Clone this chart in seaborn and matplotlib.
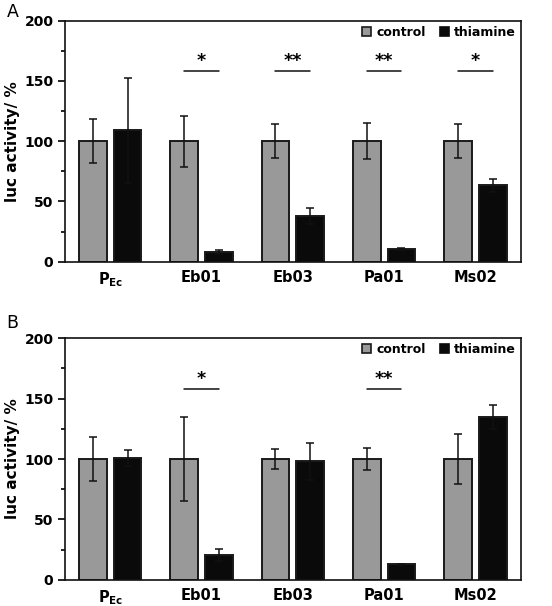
import numpy as np
import pandas as pd
import matplotlib
matplotlib.use("Agg")
import matplotlib.pyplot as plt
import seaborn as sns
from matplotlib.patches import Patch
from matplotlib.ticker import MultipleLocator

sns.set_theme(style="ticks")
plt.rcParams['font.family'] = ['DejaVu Sans']
plt.rcParams['mathtext.fontset'] = 'dejavusans'
plt.rcParams['text.color'] = '#000000'
plt.rcParams['axes.labelcolor'] = '#000000'
plt.rcParams['xtick.color'] = '#000000'
plt.rcParams['ytick.color'] = '#000000'

categories = ["PEc", "Eb01", "Eb03", "Pa01", "Ms02"]
tick_labels = [r"$\mathbf{P_{Ec}}$", "Eb01", "Eb03", "Pa01", "Ms02"]
conditions = ["control", "thiamine"]

# Panel A
a_control = [100, 100, 100, 100, 100]
a_control_err = [18, 21, 14, 15, 14]
a_thiamine = [109, 8.3, 38, 10.5, 63.5]
a_thiamine_err = [43.5, 1.5, 7, 0.6, 5.3]
a_sig = ["", "*", "**", "**", "*"]

# Panel B
b_control = [100, 100, 100, 100, 100]
b_control_err = [18, 35, 8.5, 8.8, 20.5]
b_thiamine = [101, 21, 98, 13, 135]
b_thiamine_err = [6.5, 5, 15, 0.6, 10]
b_sig = ["", "*", "", "**", ""]

sig_y = 158
colors = {"control": "#999999", "thiamine": "#0a0a0a"}


def panel(ax, ctrl, ctrl_err, thia, thia_err, sig, letter, letter_y):
    df = pd.DataFrame({
        "group": categories * 2,
        "condition": ["control"] * 5 + ["thiamine"] * 5,
        "value": ctrl + thia,
    })
    sns.barplot(data=df, x="group", y="value", hue="condition",
                order=categories, hue_order=conditions, palette=colors,
                width=0.76, gap=0.2, errorbar=None, ax=ax,
                edgecolor="#1a1a1a", linewidth=1.4, legend=False, saturation=1)
    errs = ctrl_err + thia_err
    vals = ctrl + thia
    patches = [p for p in ax.patches][:10]
    for p, v, e in zip(patches, vals, errs):
        xc = p.get_x() + p.get_width() / 2
        ax.errorbar(xc, v, yerr=e, fmt="none", ecolor="#111111",
                    elinewidth=1.1, capsize=3.2, capthick=1.1, zorder=5)
    # significance
    for i, s in enumerate(sig):
        if s:
            xc1 = patches[i].get_x() + patches[i].get_width() / 2
            xc2 = patches[i + 5].get_x() + patches[i + 5].get_width() / 2
            ax.plot([xc1, xc2], [sig_y, sig_y], color="#111111", lw=1.1)
            ax.text((xc1 + xc2) / 2, sig_y + 1, s, ha="center", va="bottom",
                    fontsize=12.5, fontweight="bold")
    ax.set_xlim(-0.5, 4.5)
    ax.set_ylim(0, 200)
    ax.yaxis.set_major_locator(MultipleLocator(50))
    ax.yaxis.set_minor_locator(MultipleLocator(25))
    ax.tick_params(axis="y", which="major", length=5, width=1.2, labelsize=10, pad=3)
    ax.tick_params(axis="y", which="minor", length=3, width=1.2)
    ax.tick_params(axis="x", length=0, labelsize=10.5, pad=6)
    ax.set_xticks(range(5))
    ax.set_xticklabels(tick_labels)
    for lab in ax.get_xticklabels() + ax.get_yticklabels():
        lab.set_fontweight("bold")
    for sp in ax.spines.values():
        sp.set_visible(True)
        sp.set_linewidth(1.2)
        sp.set_color("#111111")
    ax.set_xlabel("")
    ax.set_ylabel("luc activity/ %", fontsize=11, fontweight="bold", labelpad=3)
    handles = [Patch(facecolor=colors["control"], edgecolor="#1a1a1a", lw=1.2, label="control"),
               Patch(facecolor=colors["thiamine"], edgecolor="#0a0a0a", lw=1.2, label="thiamine")]
    ax.legend(handles=handles, loc="upper right", ncol=2, frameon=False,
              handlelength=0.7, handleheight=0.7, handletextpad=0.45,
              columnspacing=1.1, borderaxespad=0.1, borderpad=0.3,
              prop={"weight": "bold", "size": 9})
    ax.figure.text(0.012, letter_y, letter, fontsize=12.5,
                   ha="left", va="top")


fig = plt.figure(figsize=(5.52, 6.06), dpi=100)
axA = fig.add_axes([0.117, 0.568, 0.827, 0.398])
axB = fig.add_axes([0.117, 0.043, 0.827, 0.399])
panel(axA, a_control, a_control_err, a_thiamine, a_thiamine_err, a_sig, "A", 1 - 3 / 606)
panel(axB, b_control, b_control_err, b_thiamine, b_thiamine_err, b_sig, "B", 1 - 314 / 606)
fig.savefig("out.png", dpi=100)
